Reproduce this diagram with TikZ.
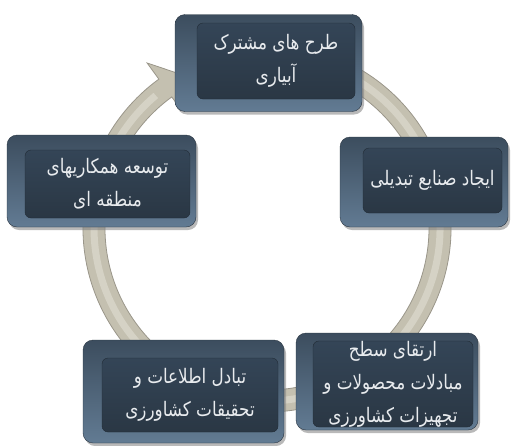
\documentclass[tikz,border=0pt]{standalone}
\usepackage{fontspec}
\usetikzlibrary{calc,shadows}
\newfontfamily\arabicfont[Script=Arabic,FakeStretch=0.84]{DejaVu Sans}
\TeXXeTstate=1
\newcommand{\rl}[1]{\beginR#1\endR}
\definecolor{rimtop}{HTML}{3C4D5E}
\definecolor{rimbot}{HTML}{627B93}
\definecolor{facetop}{HTML}{344557}
\definecolor{facebot}{HTML}{2A3744}
\definecolor{ringfill}{HTML}{C4C0B0}
\definecolor{ringedge}{HTML}{9A968A}
\definecolor{ringlight}{HTML}{D5D2C5}
\definecolor{keytext}{HTML}{E8EBEE}
\tikzset{
  keyrim/.style={rounded corners=10pt,top color=rimtop,bottom color=rimbot,draw=rimtop!70!black,
    drop shadow={shadow xshift=2pt,shadow yshift=-3pt,opacity=0.55}},
  keyface/.style={rounded corners=6pt,top color=facetop,bottom color=facebot,draw=facebot!80!black,
    text=keytext,align=center,inner sep=0pt,font=\arabicfont\fontsize{20}{33}\selectfont},
  ringbody/.style={fill=ringfill,draw=ringedge,line width=0.8pt},
  ringshine/.style={ringlight,line width=7pt}
}
\begin{document}
\begin{tikzpicture}[x=1pt,y=1pt]
\useasboundingbox (0,0) rectangle (511,-445);
\coordinate (hub) at (267,-228);

\fill[ringbody] ($(hub)+(65:184)$) arc[start angle=65,end angle=-234,radius=184]
  -- ($(hub)+(126:204)$) -- ($(hub)+(126:173)+(36:22)$) -- ($(hub)+(126:146)$)
  -- ($(hub)+(126:162)$) arc[start angle=-234,end angle=65,radius=162] -- cycle;
\draw[ringshine] ($(hub)+(65:173)$) arc[start angle=65,end angle=-230,radius=173];

\node[keyrim,minimum width=187pt,minimum height=97pt] (rimTop) at (268.5,-63) {};
\node[keyface,minimum width=158pt,minimum height=76pt] (irrigation) at (276,-61)
  {\rl{طرح های مشترک}\\\rl{آبیاری}};

\node[keyrim,minimum width=168pt,minimum height=90pt] (rimRight) at (424,-182) {};
\node[keyface,minimum width=139pt,minimum height=65pt] (industry) at (432.5,-180.5)
  {\rl{ایجاد صنایع تبدیلی}};

\node[keyrim,minimum width=189pt,minimum height=92pt] (rimLeft) at (101.5,-181) {};
\node[keyface,minimum width=165pt,minimum height=68pt] (regional) at (107.5,-184)
  {\rl{توسعه همکاریهای}\\\rl{منطقه ای}};

\node[keyrim,minimum width=201pt,minimum height=103pt] (rimLowLeft) at (183.5,-391.5) {};
\node[keyface,minimum width=176pt,minimum height=74pt] (research) at (190,-395)
  {\rl{تبادل اطلاعات و}\\\rl{تحقیقات کشاورزی}};

\node[keyrim,minimum width=182pt,minimum height=97pt] (rimLowRight) at (387,-381.5) {};
\node[keyface,minimum width=160pt,minimum height=75pt] (exchange) at (393,-384)
  {\fontsize{20}{29}\selectfont\rl{ارتقای سطح}\\\rl{مبادلات محصولات و}\\\rl{تجهیزات کشاورزی}};
\end{tikzpicture}
\end{document}
